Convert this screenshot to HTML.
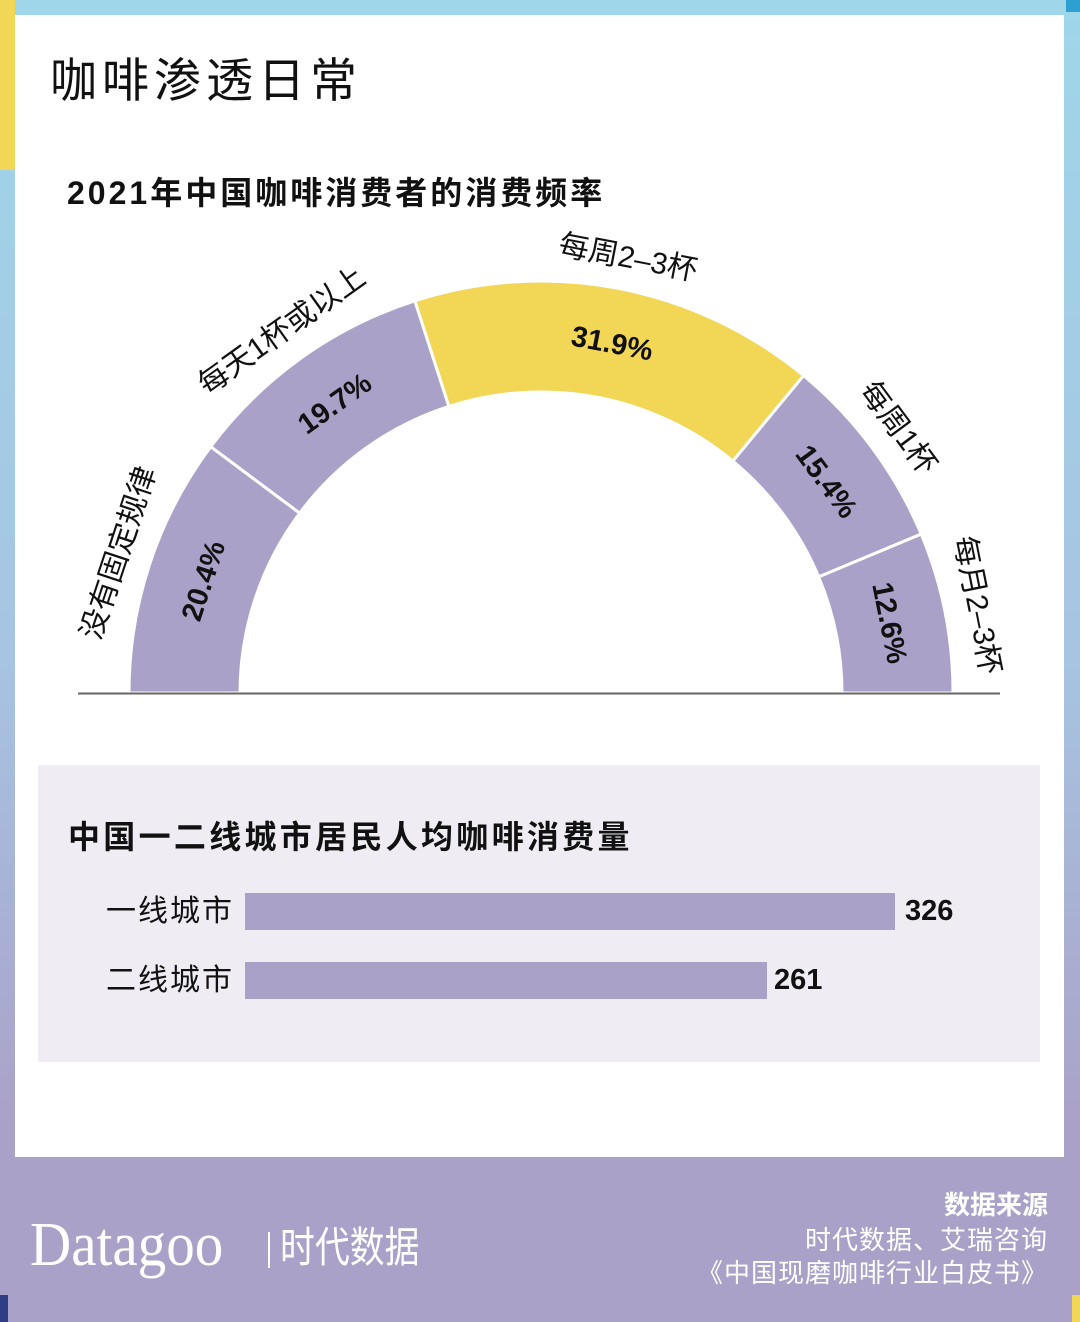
<!DOCTYPE html>
<html><head><meta charset="utf-8"><style>
html,body{margin:0;padding:0}
body{width:1080px;height:1322px;position:relative;overflow:hidden;background:#fff;font-family:"Liberation Sans","Noto Sans CJK SC",sans-serif}
.a{position:absolute}
</style></head><body>
<div class="a" style="left:0;top:0;width:1080px;height:15px;background:#9fd6ea"></div>
<div class="a" style="left:0;top:0;width:15px;height:1322px;background:linear-gradient(#9fd6ea 0%,#a7c4e2 50%,#aaa1c8 85%)"></div>
<div class="a" style="left:0;top:0;width:15px;height:170px;background:#f2d655"></div>
<div class="a" style="left:1064px;top:0;width:16px;height:1322px;background:linear-gradient(#9fd6ea 0%,#a7c4e2 50%,#aaa1c8 85%)"></div>
<div class="a" style="left:1066px;top:0;width:14px;height:12px;background:#2d9fd0"></div>
<div class="a" style="left:0;top:1157px;width:1080px;height:165px;background:#aaa1c8"></div>
<div class="a" style="left:0;top:1295px;width:8px;height:27px;background:#2f3d85"></div>
<div class="a" style="left:1072px;top:1295px;width:8px;height:27px;background:#f2d655"></div>
<div class="a" style="left:50px;top:42px;font-size:47px;letter-spacing:5px;color:#111">咖啡渗透日常</div>
<div class="a" style="left:67px;top:168px;font-size:32px;letter-spacing:3px;font-weight:bold;color:#111">2021年中国咖啡消费者的消费频率</div>
<svg class="a" style="left:0;top:0" width="1080" height="720">
<g stroke="#fff" stroke-width="3">
<path d="M129,693 A412,412 0 0 1 210.7,446.7 L299.7,513.1 A301,301 0 0 0 240,693 Z" fill="#aaa1c8"/>
<path d="M210.7,446.7 A412,412 0 0 1 414.9,300.8 L448.9,406.4 A301,301 0 0 0 299.7,513.1 Z" fill="#aaa1c8"/>
<path d="M414.9,300.8 A412,412 0 0 1 803.6,375.6 L732.9,461.1 A301,301 0 0 0 448.9,406.4 Z" fill="#f2d655"/>
<path d="M803.6,375.6 A412,412 0 0 1 921.2,534.1 L818.7,576.9 A301,301 0 0 0 732.9,461.1 Z" fill="#aaa1c8"/>
<path d="M921.2,534.1 A412,412 0 0 1 953,693 L842,693 A301,301 0 0 0 818.7,576.9 Z" fill="#aaa1c8"/>
</g>
<line x1="78" y1="693.5" x2="1000" y2="693.5" stroke="#666" stroke-width="2"/>
<g font-size="29" font-weight="bold" fill="#111" text-anchor="middle" dominant-baseline="central">
<text transform="translate(204,581) rotate(-71.6)">20.4%</text>
<text transform="translate(335,404) rotate(-35.5)">19.7%</text>
<text transform="translate(612,344) rotate(10.9)">31.9%</text>
<text transform="translate(826,482) rotate(53.5)">15.4%</text>
<text transform="translate(889,623) rotate(78.7)">12.6%</text>
</g>
<g font-size="30" fill="#111" text-anchor="middle" dominant-baseline="central">
<text transform="translate(119,553) rotate(-71.6)">没有固定规律</text>
<text transform="translate(282,331) rotate(-35.5)">每天1杯或以上</text>
<text transform="translate(628,258) rotate(10.9)">每周2–3杯</text>
<text transform="translate(898,428) rotate(53.5)">每周1杯</text>
<text transform="translate(977,605) rotate(78.7)">每月2–3杯</text>
</g>
</svg>
<div class="a" style="left:38px;top:765px;width:1002px;height:297px;background:#efecf4"></div>
<div class="a" style="left:68px;top:812px;font-size:32px;letter-spacing:3.3px;font-weight:bold;color:#111">中国一二线城市居民人均咖啡消费量</div>
<div class="a" style="left:106px;top:893px;font-size:30px;letter-spacing:2px;color:#111;line-height:37px">一线城市</div>
<div class="a" style="left:245px;top:893px;width:650px;height:37px;background:#aaa1c8"></div>
<div class="a" style="left:905px;top:893px;font-size:29px;font-weight:bold;color:#111;line-height:37px">326</div>
<div class="a" style="left:106px;top:962px;font-size:30px;letter-spacing:2px;color:#111;line-height:37px">二线城市</div>
<div class="a" style="left:245px;top:962px;width:522px;height:37px;background:#aaa1c8"></div>
<div class="a" style="left:774px;top:962px;font-size:29px;font-weight:bold;color:#111;line-height:37px">261</div>
<div class="a" style="left:30px;top:1205px;font-family:'Liberation Serif',serif;font-size:62px;color:#fff;line-height:80px;transform:scaleX(0.92);transform-origin:0 0">Datagoo</div>
<div class="a" style="left:268px;top:1232px;width:2px;height:36px;background:#fff"></div>
<div class="a" style="left:280px;top:1220px;font-size:42px;color:#fff;line-height:56px;transform:scaleX(0.83);transform-origin:0 0">时代数据</div>
<div class="a" style="right:32px;top:1188px;font-size:26px;font-weight:bold;color:#fff;text-align:right;line-height:34px">数据来源</div>
<div class="a" style="right:32px;top:1223px;font-size:26px;letter-spacing:1px;color:#fff;text-align:right;line-height:34px">时代数据、艾瑞咨询</div>
<div class="a" style="right:32px;top:1256px;font-size:26px;letter-spacing:1px;color:#fff;text-align:right;line-height:34px">《中国现磨咖啡行业白皮书》</div>
</body></html>
